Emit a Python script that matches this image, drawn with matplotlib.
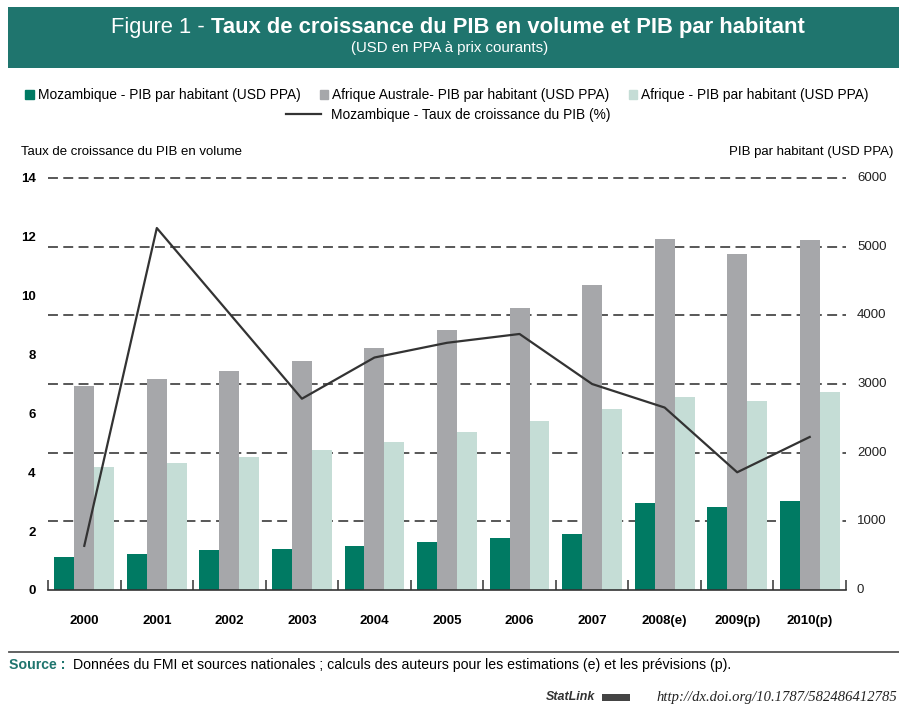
import numpy as np
import matplotlib; matplotlib.use('Agg')
import matplotlib.pyplot as plt
from matplotlib.patches import Rectangle, Patch
from matplotlib.lines import Line2D
from matplotlib.ticker import FixedLocator

plt.rcParams['font.family'] = ['Liberation Sans', 'DejaVu Sans']

# data
years = ['2000', '2001', '2002', '2003', '2004', '2005', '2006', '2007', '2008(e)', '2009(p)', '2010(p)']
moz_pib_hab = [475, 520, 578, 597, 636, 694, 753, 811, 1272, 1209, 1291]
afr_australe_hab = [2975, 3073, 3194, 3330, 3529, 3786, 4107, 4441, 5117, 4899, 5097]
afrique_hab = [1787, 1845, 1942, 2043, 2160, 2301, 2456, 2641, 2816, 2757, 2879]
moz_croissance = [1.5, 12.3, 9.4, 6.5, 7.9, 8.4, 8.7, 7.0, 6.2, 4.0, 5.2]
usd_ticks = [0, 1000, 2000, 3000, 4000, 5000, 6000]

GREEN = '#007a63'
GRAY = '#a6a7aa'
LIGHT = '#c5ddd6'
TEAL = '#1f756e'

W, H = 899, 706
fig = plt.figure(figsize=(W / 100, H / 100), dpi=100)

def fx(px): return px / W
def fy(py): return 1 - py / H

# ── title band ──
fig.patches.append(Rectangle((fx(8), fy(68)), 1 - fx(8), (68 - 7) / H, transform=fig.transFigure,
                             facecolor=TEAL, edgecolor='none', zorder=0))
t1 = fig.text(0, fy(27), 'Figure 1 - ', color='white', fontsize=15.8, va='center', ha='left')
t2 = fig.text(0, fy(27), 'Taux de croissance du PIB en volume et PIB par habitant', color='white',
              fontsize=15.8, fontweight='bold', va='center', ha='left')
fig.text(fx(450), fy(48), '(USD en PPA à prix courants)', color='white', fontsize=10.8, ha='center', va='center')

# ── main axes: bars on the USD scale ──
ax = fig.add_axes([fx(48), fy(590), fx(846) - fx(48), (590 - 178) / H])
ax2 = ax.twinx()
ax.set_zorder(1)
ax2.set_zorder(2)
ax.patch.set_visible(False)
ax2.patch.set_visible(False)

x = np.arange(len(years))
bw = 0.275
ax.bar(x - bw, moz_pib_hab, bw, color=GREEN, zorder=2)
ax.bar(x, afr_australe_hab, bw, color=GRAY, zorder=2)
ax.bar(x + bw, afrique_hab, bw, color=LIGHT, zorder=2)
ax.set_ylim(0, 6000)
ax.set_xlim(-0.5, len(years) - 0.5)
ax.set_yticks([])
for v in usd_ticks[1:]:
    ax.axhline(v, color='#2a2a2a', lw=1.1, ls=(0, (6.5, 3.5)), zorder=1, clip_on=False)
for s in ['left', 'right', 'top']:
    ax.spines[s].set_visible(False)
ax.spines['bottom'].set_color('#333333')
ax.spines['bottom'].set_linewidth(1.2)
ax.set_xticks(x)
ax.set_xticklabels(years, fontweight='bold', fontsize=9.5)
ax.tick_params(axis='x', which='major', length=0, pad=18)
ax.xaxis.set_minor_locator(FixedLocator(np.arange(-0.5, len(years), 1.0)))
ax.tick_params(axis='x', which='minor', direction='in', length=7, width=1.1, color='#333333')

# growth line on the % scale
ax2.plot(x, moz_croissance, color='#333333', lw=1.6, zorder=3)
ax2.set_ylim(0, 14)
ax2.set_yticks(range(0, 15, 2))
ax2.yaxis.tick_left()
ax2.tick_params(axis='y', length=0, pad=9, labelsize=9.5)
for lab in ax2.get_yticklabels():
    lab.set_fontweight('bold')
for s in ax2.spines.values():
    s.set_visible(False)

# right-hand USD labels, drawn at the bar scale
for v in usd_ticks:
    ax.text(1.0 + 11 / (846 - 48), v, str(v), transform=ax.get_yaxis_transform(), fontsize=9.5,
            color='#222222', ha='left', va='center')

# ── legend ──
h1 = [Patch(color=GREEN), Patch(color=GRAY), Patch(color=LIGHT)]
l1 = ['Mozambique - PIB par habitant (USD PPA)', 'Afrique Australe- PIB par habitant (USD PPA)',
      'Afrique - PIB par habitant (USD PPA)']
fig.legend(h1, l1, loc='center', bbox_to_anchor=(fx(447), fy(95)), ncol=3, frameon=False,
           fontsize=9.9, handlelength=0.6, handleheight=0.6, handletextpad=0.3, columnspacing=1.4)
fig.legend([Line2D([], [], color='#333333', lw=1.6)], ['Mozambique - Taux de croissance du PIB (%)'],
           loc='center', bbox_to_anchor=(fx(448), fy(115)), frameon=False, fontsize=9.9,
           handlelength=2.6, handletextpad=0.7)

fig.text(fx(21), fy(152), 'Taux de croissance du PIB en volume', fontsize=9.5, va='center', ha='left')
fig.text(fx(893), fy(152), 'PIB par habitant (USD PPA)', fontsize=9.5, va='center', ha='right')

# ── footer ──
fig.add_artist(Line2D([fx(9), 1], [fy(652), fy(652)], color='#555555', lw=1.3))
s1 = fig.text(fx(9), fy(665), 'Source :', color=TEAL, fontweight='bold', fontsize=10.2, va='center')
s2 = fig.text(0, fy(665), 'Données du FMI et sources nationales ; calculs des auteurs pour les estimations (e) et les prévisions (p).',
              fontsize=10.2, va='center')
k1 = fig.text(fx(546), fy(697), 'StatLink', fontweight='bold', style='italic', fontsize=9, va='center',
              color='#333333')
fig.patches.append(Rectangle((fx(602), fy(701)), 28 / W, 7 / H, transform=fig.transFigure,
                             facecolor='#444444', edgecolor='none'))
k2 = fig.text(fx(897), fy(697), 'http://dx.doi.org/10.1787/582486412785', family='Liberation Serif',
              style='italic', fontsize=10.5, va='center', ha='right', color='#222222')

# place mixed-weight pieces
r = fig.canvas.get_renderer()
w1 = t1.get_window_extent(r).width
w2 = t2.get_window_extent(r).width
start = 458 - (w1 + w2) / 2
t1.set_x(fx(start))
t2.set_x(fx(start + w1))
s2.set_x(fx(9 + s1.get_window_extent(r).width + 8))

fig.savefig('out.png', dpi=100)
